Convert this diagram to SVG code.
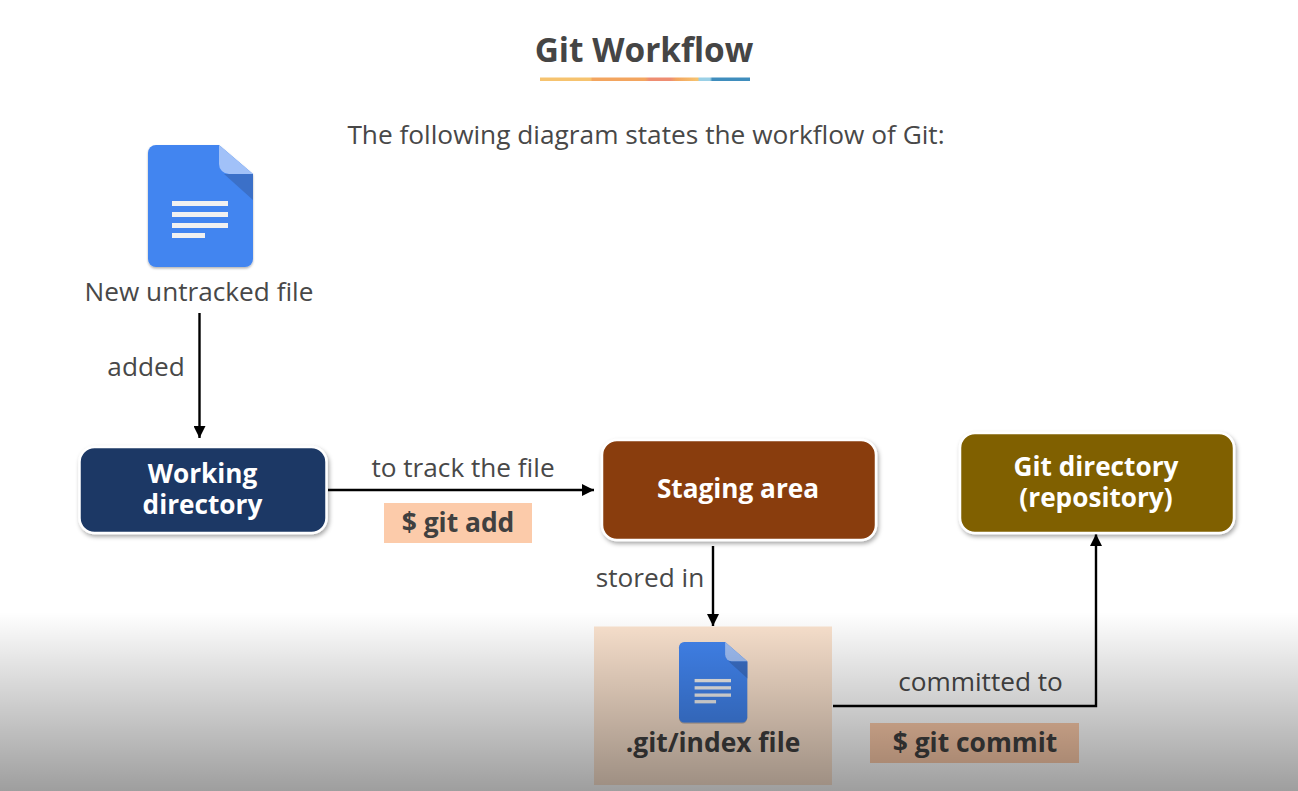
<svg xmlns="http://www.w3.org/2000/svg" xmlns:xlink="http://www.w3.org/1999/xlink" width="1298" height="791" viewBox="0 0 1298 791">
<style>
text{font-family:"Open Sans","Noto Sans","DejaVu Sans",sans-serif;fill:#484848}
.lbl{font-size:26.2px;text-anchor:middle}
.node{font-size:26.2px;font-weight:700;fill:#fff;text-anchor:middle}
.cmd{font-size:26.4px;font-weight:700;text-anchor:middle;fill:#404040}
.box{stroke:#fff;stroke-width:2.5;filter:url(#sh)}
.conn{fill:none;stroke:#000;stroke-width:2.4;marker-end:url(#ah)}
</style>
<defs>
<marker id="ah" markerUnits="userSpaceOnUse" markerWidth="13" markerHeight="12" refX="12" refY="6" orient="auto"><path d="M0 0L12 6L0 12Z" fill="#000"/></marker>
<filter id="sh" x="-10%" y="-10%" width="120%" height="130%"><feDropShadow dx="1.5" dy="2.5" stdDeviation="2" flood-color="#000" flood-opacity=".35"/></filter>
<filter id="sd" x="-10%" y="-10%" width="120%" height="120%"><feDropShadow dx="0" dy="1.5" stdDeviation="1.2" flood-color="#000" flood-opacity=".3"/></filter>
<linearGradient id="fade" x1="0" y1="0" x2="0" y2="1"><stop offset="0" stop-color="#000" stop-opacity="0"/><stop offset="1" stop-color="#000" stop-opacity=".38"/></linearGradient>
<linearGradient id="ul"><stop offset="0" stop-color="#f6c36f"/><stop offset=".24" stop-color="#f6c36f"/><stop offset=".25" stop-color="#f3a55f"/><stop offset=".5" stop-color="#f3a55f"/><stop offset=".52" stop-color="#ee8d72"/><stop offset=".62" stop-color="#ee8d72"/><stop offset=".65" stop-color="#f3a55f"/><stop offset=".75" stop-color="#f6c36f"/><stop offset=".76" stop-color="#9ad0e6"/><stop offset=".81" stop-color="#9ad0e6"/><stop offset=".82" stop-color="#3f8dbd"/><stop offset="1" stop-color="#3f8dbd"/></linearGradient>
<g id="doc">
<path d="M8 0H71L105 29V114a8 8 0 0 1-8 8H8a8 8 0 0 1-8-8V8a8 8 0 0 1 8-8Z" fill="#4285f0"/>
<path d="M76 29L105 29V55Z" fill="#3a70c8"/>
<path d="M71 0L105 29H81a10 10 0 0 1-10-10Z" fill="#a1c1f8"/>
<g fill="#f1f1f1"><rect x="24" y="56" width="56" height="5"/><rect x="24" y="67" width="56" height="5"/><rect x="24" y="78" width="56" height="5"/><rect x="24" y="88" width="33" height="5"/></g>
</g>
</defs>
<rect width="1298" height="791" fill="#fff"/>
<g id="title">
<text x="644" y="61.500" font-size="33.400" font-weight="700" text-anchor="middle" style="fill:#454545">Git Workflow</text>
<rect x="540" y="77.500" width="210" height="3.500" fill="url(#ul)"/>
<text x="646" y="144" font-size="26.250" text-anchor="middle">The following diagram states the workflow of Git:</text>
</g>
<g id="connectors">
<path class="conn" d="M199.500 313V438"/>
<path class="conn" d="M328 490H594"/>
<path class="conn" d="M713 546V626"/>
<path class="conn" d="M833 706H1096V534"/>
</g>
<g id="new-file">
<use xlink:href="#doc" href="#doc" x="148" y="145" filter="url(#sd)"/>
<text class="lbl" x="199" y="301">New untracked file</text>
</g>
<text class="lbl" x="146" y="376">added</text>
<g id="working-directory">
<rect class="box" x="79.500" y="447" width="247" height="86" rx="15" fill="#1c3865"/>
<text class="node" x="202.500" y="482.500">Working</text>
<text class="node" x="202.500" y="514">directory</text>
</g>
<text class="lbl" x="463" y="477">to track the file</text>
<g id="git-add">
<rect x="384" y="503" width="148" height="40" fill="#fccbaa"/>
<text class="cmd" x="458" y="532">$ git add</text>
</g>
<g id="staging-area">
<rect class="box" x="602" y="440" width="274" height="100" rx="15" fill="#893d0b"/>
<text class="node" x="738" y="498">Staging area</text>
</g>
<g id="git-directory">
<rect class="box" x="960" y="433" width="274" height="100" rx="15" fill="#806000"/>
<text class="node" x="1096" y="476">Git directory</text>
<text class="node" x="1096" y="507">(repository)</text>
</g>
<text class="lbl" x="650" y="587">stored in</text>
<g id="index-file">
<rect x="594" y="626.500" width="238" height="158.500" fill="#fbe3cf"/>
<use xlink:href="#doc" href="#doc" transform="translate(679 642) scale(.65 .66)" filter="url(#sd)"/>
<text class="cmd" x="713" y="752">.git/index file</text>
</g>
<text class="lbl" x="980.500" y="691">committed to</text>
<g id="git-commit">
<rect x="870" y="723" width="209" height="40" fill="#fccbaa"/>
<text class="cmd" x="975" y="752">$ git commit</text>
</g>
<rect id="fade-overlay" x="0" y="612" width="1298" height="179" fill="url(#fade)"/>
</svg>
